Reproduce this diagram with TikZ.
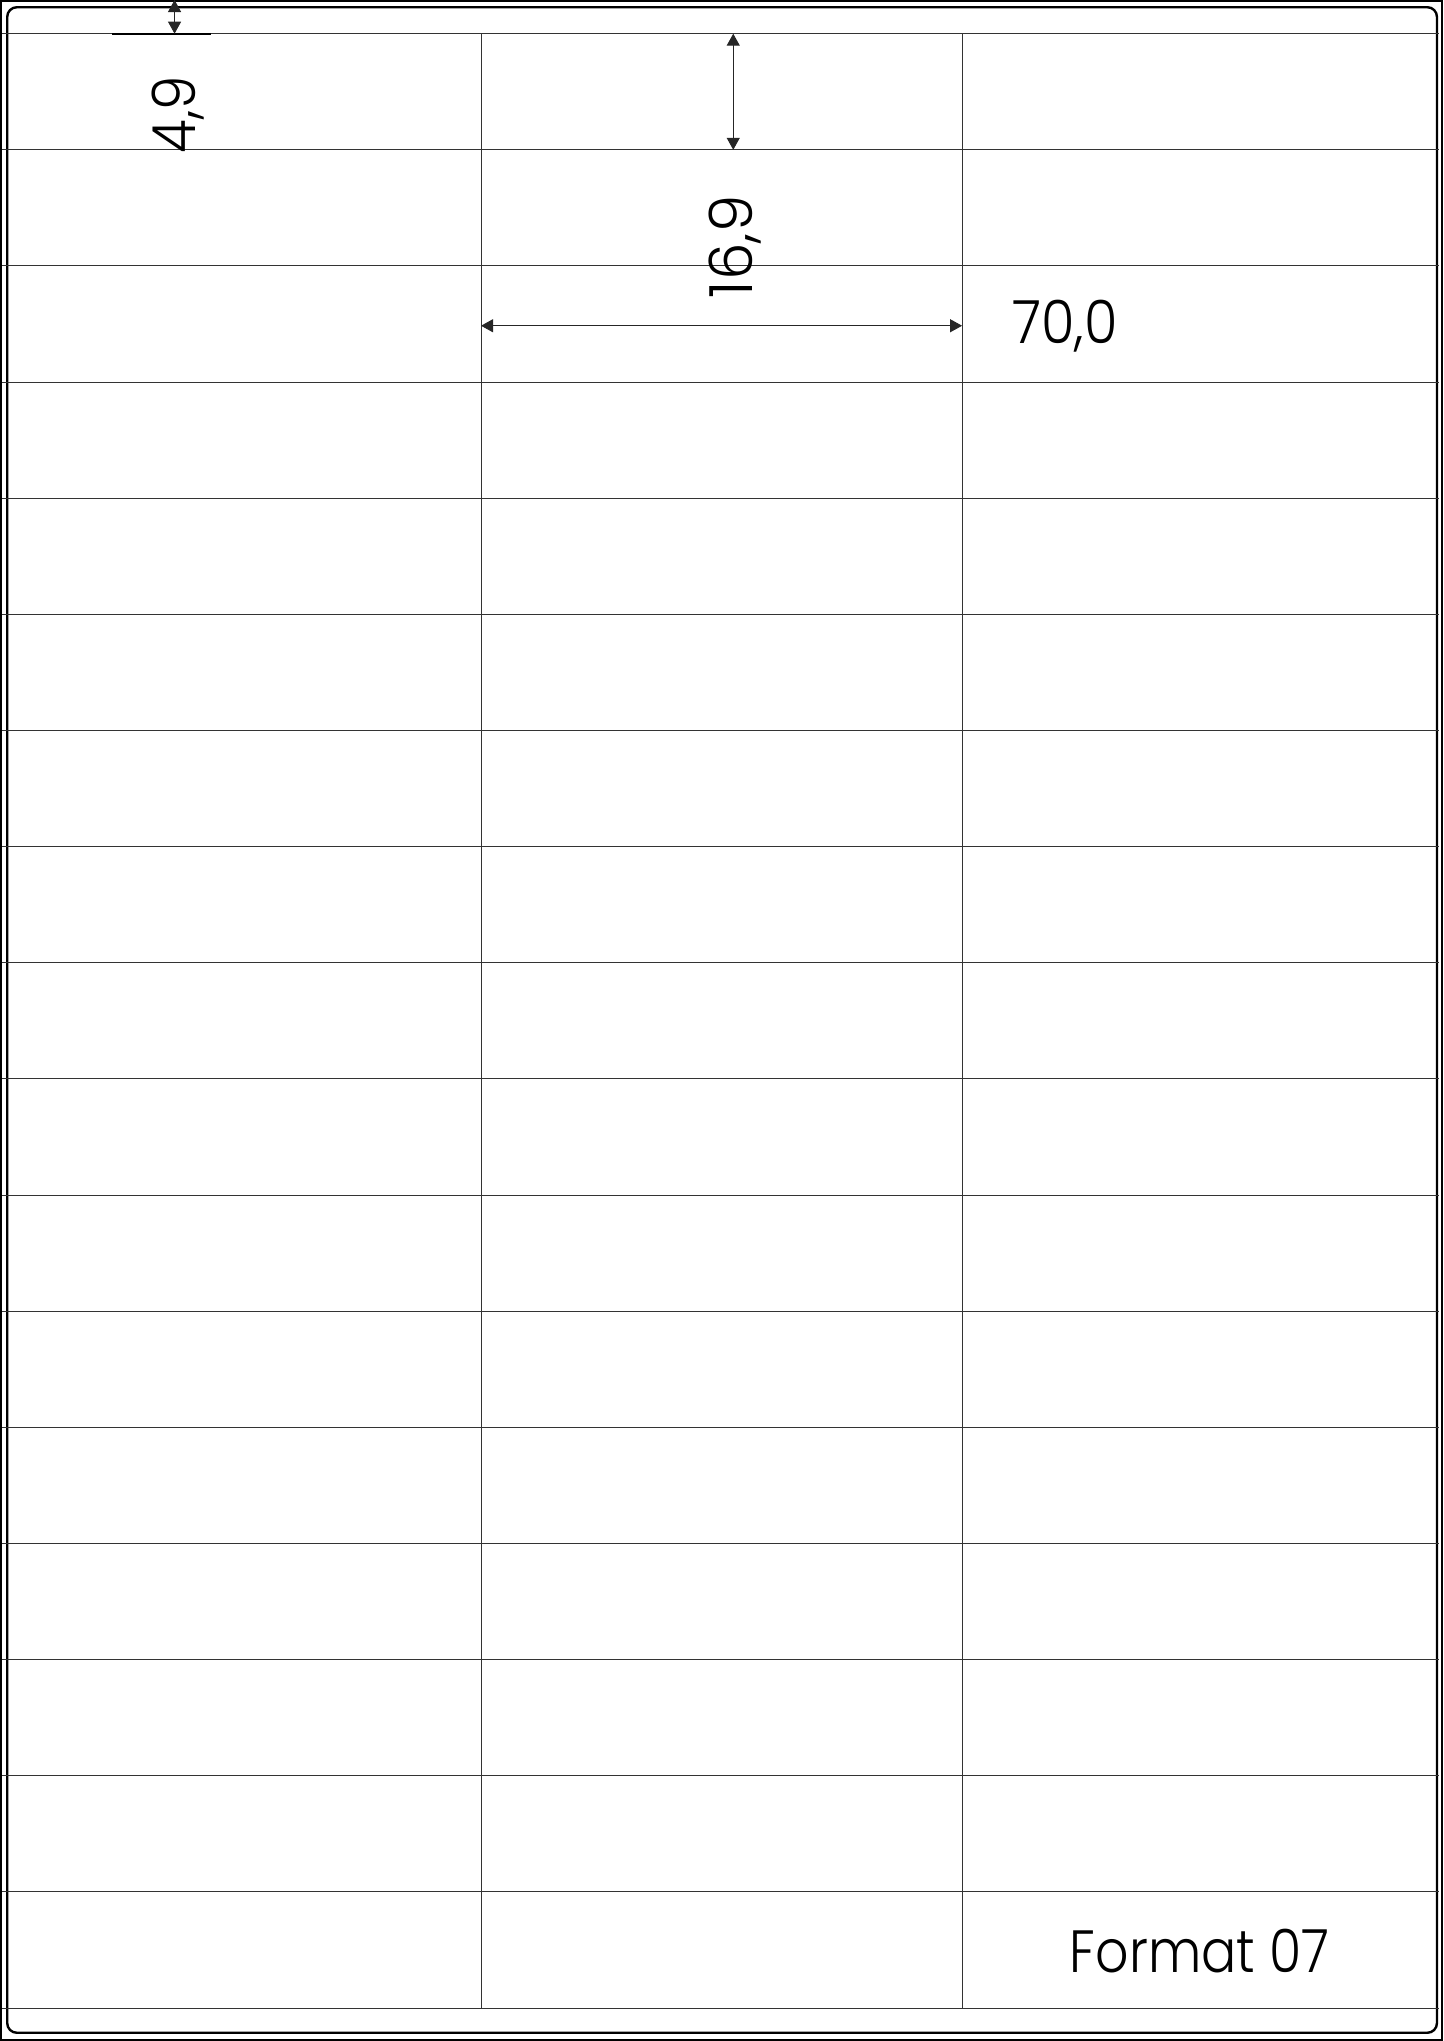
\documentclass[tikz,border=0pt]{standalone}
\usepackage{fontspec}
\setmainfont{Poppins}[UprightFont={* Light}]
\usetikzlibrary{arrows.meta}
\begin{document}
\begin{tikzpicture}[x=1mm,y=-1mm,
  gridline/.style={line width=0.15mm, draw=black!80},
  dimline/.style={line width=0.14mm, draw=black!85,
    {Triangle[length=1.75mm,width=1.9mm]}-{Triangle[length=1.75mm,width=1.9mm]}},
  extline/.style={line width=0.25mm},
  lbl/.style={font=\fontsize{24.7}{26}\selectfont, inner sep=0pt, outer sep=0pt}]
\useasboundingbox (0,0) rectangle (210,297);
% borders
\draw[line width=0.22mm] (0.15,0.15) rectangle (209.85,296.85);
\draw[line width=0.35mm, rounded corners=1.4mm] (1.05,1.05) rectangle (209.1,295.8);
% label grid
\foreach \i in {0,...,17}{
  \pgfmathsetmacro{\yy}{4.9+16.9*\i}
  \draw[gridline] (0.3,\yy) -- (209.4,\yy);
}
\draw[gridline] (70,4.9) -- (70,292.2);
\draw[gridline] (140,4.9) -- (140,292.2);
% dimension 4,9
\coordinate (m1) at (25.4,0);
\coordinate (m2) at (25.4,4.9);
\coordinate (e1) at (16.3,4.9);
\coordinate (e2) at (30.7,4.9);
\draw[extline] (e1) -- (e2);
\draw[dimline] (m1) -- (m2);
\node[lbl, rotate=90, xscale=0.92, anchor=base west] (t49) at (28.4,22.3) {4,9};
% dimension 16,9
\coordinate (h1) at (106.7,4.9);
\coordinate (h2) at (106.7,21.8);
\draw[dimline] (h1) -- (h2);
\node[lbl, rotate=90, anchor=base west] (t169) at (109.5,43.4) {16,9};
% dimension 70,0
\coordinate (w1) at (70,47.4);
\coordinate (w2) at (140,47.4);
\draw[dimline] (w1) -- (w2);
\node[lbl, xscale=0.91, anchor=base west] (t70) at (147.3,50.05) {70,0};
% format
\node[lbl, xscale=0.875, anchor=base west] (tf) at (155.7,287.1) {Format 07};
\end{tikzpicture}
\end{document}
